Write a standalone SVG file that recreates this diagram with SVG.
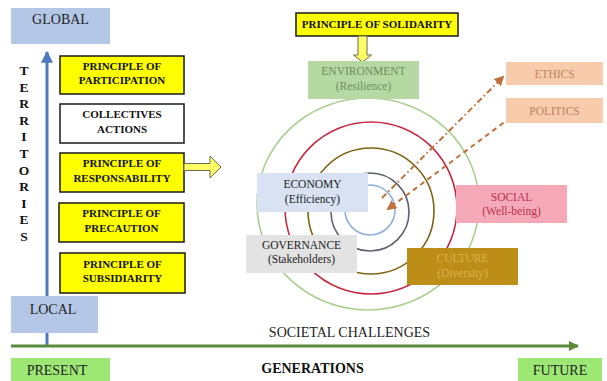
<svg xmlns="http://www.w3.org/2000/svg" width="607" height="381" viewBox="0 0 607 381">
<style>
text{font-family:"Liberation Serif","Times New Roman",serif;text-anchor:middle}
.lbl{font-size:11.5px}
.bold{font-size:11px;font-weight:bold;fill:#111}
.big{font-size:14px;fill:#222}
.ybox{fill:#ffff00;stroke:#1a1a1a;stroke-width:1.5}
.wbox{fill:#ffffff;stroke:#1a1a1a;stroke-width:1.5}
.ring{fill:none;stroke-width:1.6}
.lt{font-size:13.5px;font-weight:bold;fill:#111}
</style>
<defs>
<marker id="blueHead" viewBox="0 0 10 10" refX="9" refY="5" markerWidth="4" markerHeight="4" orient="auto"><path d="M0,0L10,5L0,10z" fill="#4f79bf"/></marker>
<marker id="greenHead" viewBox="0 0 10 10" refX="9" refY="5" markerWidth="3.5" markerHeight="3.5" orient="auto"><path d="M0,0L10,5L0,10z" fill="#5b8a3c"/></marker>
<marker id="orHead" viewBox="0 0 10 10" refX="8" refY="5" markerWidth="5" markerHeight="5" orient="auto"><path d="M0,0L10,5L0,10z" fill="#c0703a"/></marker>
</defs>

<g id="axes">
<line x1="47" y1="346" x2="47" y2="52" stroke="#4f79bf" stroke-width="3" marker-end="url(#blueHead)"/>
<line x1="11" y1="346" x2="578" y2="346" stroke="#5b8a3c" stroke-width="3" marker-end="url(#greenHead)"/>
</g>

<g id="global"><rect x="11" y="8" width="99" height="36" fill="#b4c7e7"/><text x="60.5" y="24" class="big">GLOBAL</text></g>
<g id="local"><rect x="11" y="296" width="87" height="37" fill="#b4c7e7"/><text x="53" y="314" class="big">LOCAL</text></g>
<g id="present"><rect x="11" y="358" width="99" height="23" fill="#9de874"/><text x="57" y="375" class="big">PRESENT</text></g>
<g id="future"><rect x="518" y="358" width="84" height="23" fill="#9de874"/><text x="560" y="375" class="big">FUTURE</text></g>

<g id="territories">
<text class="lt" x="24" y="75">T</text>
<text class="lt" x="24" y="91.6">E</text>
<text class="lt" x="24" y="108.2">R</text>
<text class="lt" x="24" y="124.8">R</text>
<text class="lt" x="24" y="141.4">I</text>
<text class="lt" x="24" y="158">T</text>
<text class="lt" x="24" y="174.6">O</text>
<text class="lt" x="24" y="191.2">R</text>
<text class="lt" x="24" y="207.8">I</text>
<text class="lt" x="24" y="224.4">E</text>
<text class="lt" x="24" y="241">S</text>
</g>

<g id="participation"><rect class="ybox" x="60" y="56" width="124" height="38"/><text class="bold" x="122" y="69.5">PRINCIPLE OF</text><text class="bold" x="122" y="84">PARTICIPATION</text></g>
<g id="collectives"><rect class="wbox" x="60" y="104" width="124" height="39"/><text class="bold" x="122" y="118">COLLECTIVES</text><text class="bold" x="122" y="132.5">ACTIONS</text></g>
<g id="responsability"><rect class="ybox" x="60" y="153" width="124" height="39"/><text class="bold" x="122" y="167">PRINCIPLE OF</text><text class="bold" x="122" y="181.5">RESPONSABILITY</text></g>
<g id="precaution"><rect class="ybox" x="59" y="203" width="125" height="39"/><text class="bold" x="121.5" y="217">PRINCIPLE OF</text><text class="bold" x="121.5" y="231.5">PRECAUTION</text></g>
<g id="subsidiarity"><rect class="ybox" x="60" y="253" width="125" height="40"/><text class="bold" x="122.5" y="267.5">PRINCIPLE OF</text><text class="bold" x="122.5" y="282">SUBSIDIARITY</text></g>

<g id="solidarity"><rect class="ybox" x="296" y="13" width="162" height="23"/><text class="bold" x="377" y="28">PRINCIPLE OF SOLIDARITY</text></g>

<g id="rings">
<ellipse class="ring" cx="368" cy="204" rx="111" ry="106" stroke="#a9cf90"/>
<circle class="ring" cx="371" cy="208" r="86" stroke="#c8283f"/>
<circle class="ring" cx="371" cy="211" r="63" stroke="#7f6412"/>
<circle class="ring" cx="370" cy="212" r="39" stroke="#5e6070"/>
<circle class="ring" cx="370" cy="210" r="25" stroke="#8fb0d8"/>
</g>

<g id="connectors">
<path d="M184,163.5H210V156L221,167L210,178V170.5H184z" fill="#ffff66" stroke="#6a6a50" stroke-width="1"/>
<path d="M358,36V55H353.5L362.5,62L371.5,55H367V36z" fill="#ffff66" stroke="#6a6a50" stroke-width="1"/>
<line x1="382" y1="198" x2="503" y2="77" stroke="#c0703a" stroke-width="2" stroke-dasharray="6 3 1.5 3" marker-end="url(#orHead)"/>
<line x1="518" y1="112" x2="388" y2="209" stroke="#c0703a" stroke-width="2" stroke-dasharray="5 4" marker-end="url(#orHead)"/>
</g>

<g id="environment"><rect x="308" y="61" width="111" height="38" fill="#b6d8a3"/><text class="lbl" x="363.5" y="75" fill="#6f8f62">ENVIRONMENT</text><text class="lbl" x="363.5" y="90" fill="#6f8f62">(Resilience)</text></g>
<g id="ethics"><rect x="506" y="62" width="97" height="23" fill="#f8cbad"/><text class="lbl" x="554.5" y="77.5" fill="#c3825a">ETHICS</text></g>
<g id="politics"><rect x="506" y="98" width="97" height="25" fill="#f8cbad"/><text class="lbl" x="554.5" y="114.5" fill="#c3825a">POLITICS</text></g>
<g id="social"><rect x="456" y="185" width="111" height="38" fill="#f5a9b8"/><text class="lbl" x="511.5" y="201" fill="#b8324f">SOCIAL</text><text class="lbl" x="511.5" y="215" fill="#b8324f">(Well-being)</text></g>
<g id="economy"><rect x="257" y="173" width="111" height="39" fill="#d8e2f2"/><text class="lbl" x="312.5" y="188" fill="#222">ECONOMY</text><text class="lbl" x="312.5" y="202.5" fill="#222">(Efficiency)</text></g>
<g id="governance"><rect x="246" y="235" width="111" height="38" fill="#e3e3e3"/><text class="lbl" x="301.5" y="249" fill="#222">GOVERNANCE</text><text class="lbl" x="301.5" y="262.5" fill="#222">(Stakeholders)</text></g>
<g id="culture"><rect x="407" y="248" width="111" height="37" fill="#bd8e17"/><text class="lbl" x="462.5" y="262" fill="#d8b14e">CULTURE</text><text class="lbl" x="462.5" y="276.5" fill="#d8b14e">(Diversity)</text></g>

<text x="349.5" y="337" class="big">SOCIETAL CHALLENGES</text>
<text x="312.5" y="373" style="font-size:14px;font-weight:bold;fill:#111">GENERATIONS</text>
</svg>
